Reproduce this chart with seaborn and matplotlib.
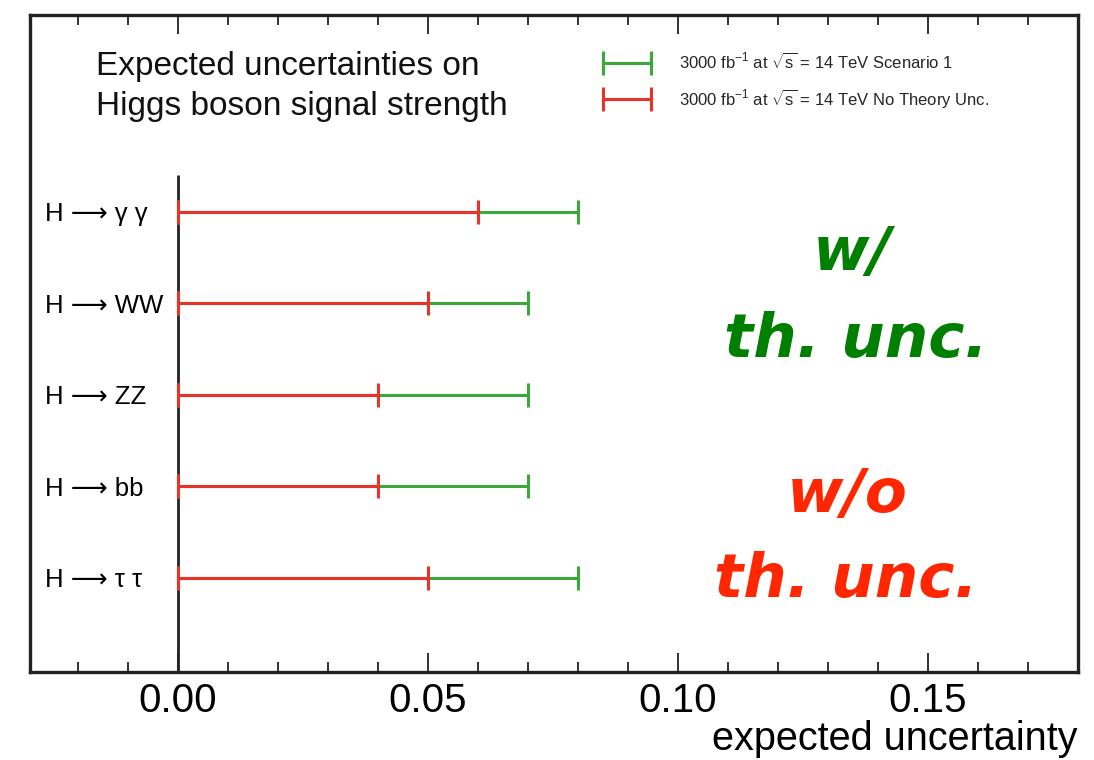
import matplotlib
matplotlib.use("Agg")
import matplotlib.pyplot as plt
from matplotlib.ticker import MultipleLocator
from matplotlib.lines import Line2D
import seaborn as sns
import numpy as np
import pandas as pd

# ---- data ----
channels = ["H ⟶ γ γ", "H ⟶ WW", "H ⟶ ZZ", "H ⟶ bb", "H ⟶ τ τ"]
with_theory = [0.08, 0.07, 0.07, 0.07, 0.08]      # Scenario 1 (green)
no_theory = [0.06, 0.05, 0.04, 0.04, 0.05]        # No Theory Unc. (red)
xticks = [0.00, 0.05, 0.10, 0.15]
xtick_labels = ["0.00", "0.05", "0.10", "0.15"]
label_green = r"3000 fb$^{-1}$ at $\sqrt{s}$ = 14 TeV Scenario 1"
label_red = r"3000 fb$^{-1}$ at $\sqrt{s}$ = 14 TeV No Theory Unc."
title_lines = ["Expected uncertainties on", "Higgs boson signal strength"]

df = pd.DataFrame({"channel": channels, "with": with_theory, "without": no_theory})
df["pos"] = np.arange(len(df))

sns.set_theme(style="ticks")
plt.rcParams["font.family"] = ["Liberation Sans", "DejaVu Sans"]
plt.rcParams["mathtext.fontset"] = "custom"
plt.rcParams["mathtext.rm"] = "Liberation Sans"
plt.rcParams["mathtext.it"] = "Liberation Sans"

fig = plt.figure(figsize=(10.94, 7.6), dpi=100)
ax = fig.add_axes([30 / 1094, 1 - 672 / 760, (1078 - 30) / 1094, (672 - 15) / 760])

GREEN = "#3aa83a"
RED = "#e8322a"
LW = 2.2
CAP = 8.3

ax.errorbar(df["with"] / 2, df["pos"], xerr=df["with"] / 2, fmt="none",
            ecolor=GREEN, elinewidth=LW, capsize=CAP, capthick=LW, zorder=3)
ax.errorbar(df["without"] / 2, df["pos"], xerr=df["without"] / 2, fmt="none",
            ecolor=RED, elinewidth=LW, capsize=CAP, capthick=LW, zorder=4)

# vertical line at 0
ax.vlines(0, -0.4, len(df) - 1 + 1.05, color="#222222", lw=2.0, zorder=2)

ax.set_xlim(-0.0296, 0.18)
ax.set_ylim(len(df) - 1 + 1.03, -2.15)

ax.set_xticks(xticks, xtick_labels)
ax.xaxis.set_minor_locator(MultipleLocator(0.01))
ax.tick_params(axis="x", which="major", direction="in", length=14, width=1.3,
               top=True, bottom=True, labelsize=29, pad=7, colors="#222222",
               labelcolor="black")
ax.tick_params(axis="x", which="minor", direction="in", length=7, width=1.3,
               top=True, bottom=True, colors="#222222")

ax.set_yticks(df["pos"], df["channel"])
ax.tick_params(axis="y", which="both", length=0, pad=-11, labelsize=18.5,
               labelcolor="black")
for lbl in ax.get_yticklabels():
    lbl.set_horizontalalignment("left")

for sp in ax.spines.values():
    sp.set_linewidth(2.4)
    sp.set_color("#222222")

ax.set_xlabel("expected uncertainty", fontsize=28.5, loc="right", labelpad=0,
              color="black")

# title text
for txt, yb in zip(title_lines, [75, 115]):
    fig.text(96 / 1094, 1 - yb / 760, txt, fontsize=24, va="baseline",
             ha="left", color="#111111")

# legend
handles = [Line2D([], [], color=c, lw=LW, marker="|", markersize=2 * CAP, mew=LW)
           for c in (GREEN, RED)]
ax.legend(handles=handles, labels=[label_green, label_red], loc="upper left",
          bbox_to_anchor=(598 / 1094, 1 - 52 / 760), numpoints=2,
          bbox_transform=fig.transFigure, frameon=False, fontsize=12,
          handlelength=3.5, handletextpad=1.35, labelspacing=0.9,
          borderpad=0, borderaxespad=0)

# big annotations
ann_kw = dict(ha="center", va="baseline", fontsize=44, fontweight="bold",
              fontstyle="oblique", family=["DejaVu Sans"])
for txt, xc, yb, col in [("w/", 852, 270, "#007f00"),
                         ("th. unc.", 856, 357, "#007f00"),
                         ("w/o", 847, 512, "#ff2600"),
                         ("th. unc.", 846, 597, "#ff2600")]:
    fig.text(xc / 1094, 1 - yb / 760, txt, color=col, **ann_kw)

fig.savefig("out.png", dpi=100)
